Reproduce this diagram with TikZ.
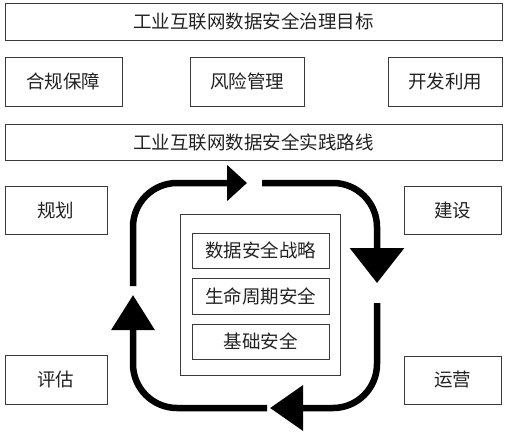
\documentclass[tikz,border=0pt]{standalone}
\usepackage{fontspec}
\setmainfont{Noto Sans CJK SC}[Scale=1.0]
\usepackage{tikz}
\usetikzlibrary{arrows.meta, positioning}
\definecolor{boxLine}{HTML}{3A3A3A}
\definecolor{boxText}{HTML}{222222}

\begin{document}
\begin{tikzpicture}[x = 1pt, y = -1pt]
  \def\cycleWidth{6.5pt}
  \def\cycleRound{44pt}

  \tikzset{
    cellbox/.style = {draw = boxLine, line width = 0.9pt, text = boxText,
      inner sep = 0pt, font = \fontsize{18.5}{21}\selectfont},
    cyclearrow/.style = {line width = \cycleWidth, rounded corners = \cycleRound,
      -{Triangle[length = 33pt, width = 44pt]}},
  }

  \useasboundingbox (0, 0) rectangle (507, 440);

  % ------------------------
  % goal and route bars
  % ------------------------

  \node[cellbox, minimum width = 497pt, minimum height = 37pt] (goal) at (253.5, 21.5) {工业互联网数据安全治理目标};
  \node[cellbox, minimum width = 117pt, minimum height = 49pt] (comply) at (63.5, 81.5) {合规保障};
  \node[cellbox, minimum width = 114pt, minimum height = 49pt] (risk) at (247, 81.5) {风险管理};
  \node[cellbox, minimum width = 114pt, minimum height = 49pt] (use) at (445, 81.5) {开发利用};
  \node[cellbox, minimum width = 497pt, minimum height = 36pt] (route) at (253.5, 142) {工业互联网数据安全实践路线};

  % ------------------------
  % stage boxes
  % ------------------------

  \node[cellbox, minimum width = 102pt, minimum height = 48pt] (plan) at (56, 210) {规划};
  \node[cellbox, minimum width = 102pt, minimum height = 49pt] (assess) at (56, 379.5) {评估};
  \node[cellbox, minimum width = 97pt, minimum height = 48pt] (build) at (452.5, 210) {建设};
  \node[cellbox, minimum width = 97pt, minimum height = 48pt] (operate) at (452.5, 380) {运营};

  % ------------------------
  % core stack
  % ------------------------

  \node[cellbox, minimum width = 160pt, minimum height = 161pt] (core) at (260, 294.5) {};
  \node[cellbox, minimum width = 137pt, minimum height = 35pt] (strategy) at (260.5, 250.5) {数据安全战略};
  \node[cellbox, minimum width = 137pt, minimum height = 36pt, below = 9.5pt of strategy] (life) {生命周期安全};
  \node[cellbox, minimum width = 137pt, minimum height = 35pt, below = 9pt of life] (base) {基础安全};

  % ------------------------
  % cycle arrows
  % ------------------------

  \coordinate (A1) at (133, 286);
  \coordinate (A2) at (247, 183);
  \coordinate (B1) at (262, 183);
  \coordinate (B2) at (377, 283);
  \coordinate (C1) at (377, 303);
  \coordinate (C2) at (270, 408);
  \coordinate (D1) at (267, 408);
  \coordinate (D2) at (133, 295);

  \draw[cyclearrow, -{Triangle[length = 20pt, width = 35pt]}] (A1) |- (A2);
  \draw[cyclearrow, -{Triangle[length = 35pt, width = 53pt]}] (B1) -| (B2);
  \draw[cyclearrow] (C1) |- (C2);
  \draw[cyclearrow, -{Triangle[length = 35pt, width = 42pt]}] (D1) -| (D2);
\end{tikzpicture}
\end{document}
